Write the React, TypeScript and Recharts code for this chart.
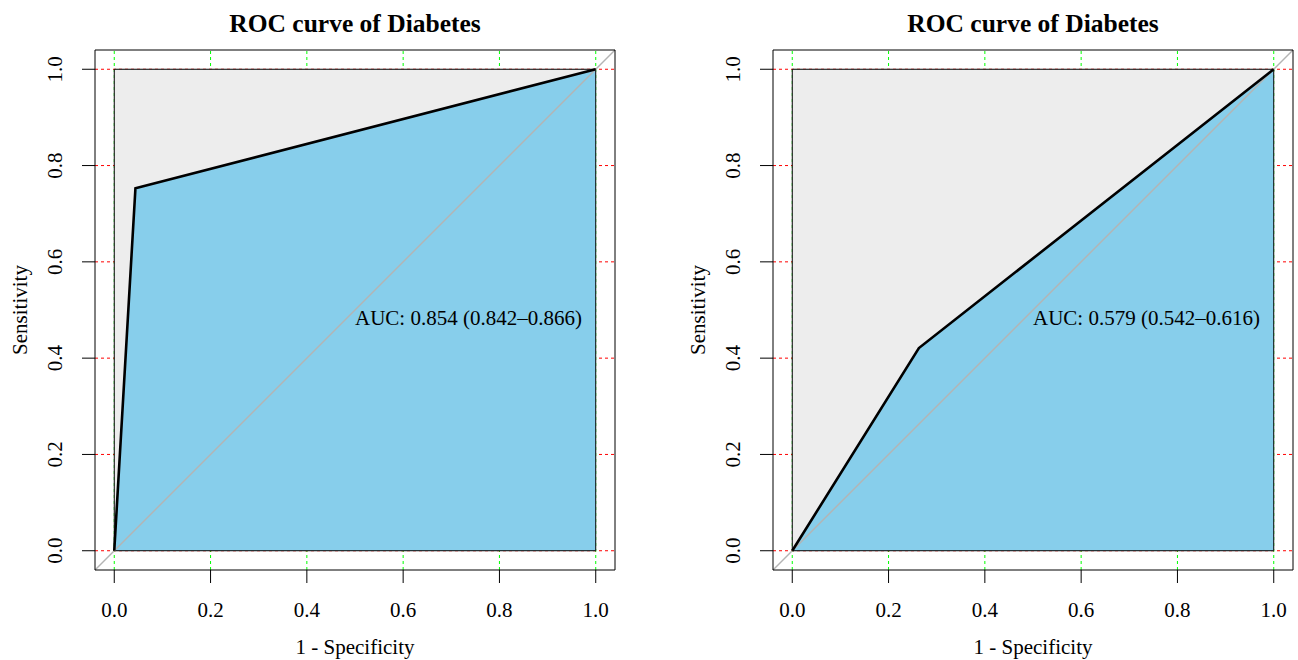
import {
  ComposedChart,
  Area,
  Line,
  ReferenceArea,
  ReferenceDot,
  ReferenceLine,
  XAxis,
  YAxis,
} from 'recharts'

// ROC points (1 - specificity, sensitivity)
const fprLeft = [0, 0.044, 1]
const tprLeft = [0, 0.753, 1]
const fprRight = [0, 0.263, 1]
const tprRight = [0, 0.421, 1]

const aucLeft = 'AUC: 0.854 (0.842\u20130.866)'
const aucRight = 'AUC: 0.579 (0.542\u20130.616)'

const ticks = [0, 0.2, 0.4, 0.6, 0.8, 1]
const title = 'ROC curve of Diabetes'

const font = '"Liberation Serif", "Times New Roman", serif'
const FS = 21
const W = 649
const H = 660
const TOP = 50
const BOTTOM = 90
const PLOT_W = 520

type PanelProps = {
  fpr: number[]
  tpr: number[]
  auc: string
  left: number
  plotLeft: number
}

function Panel({ fpr, tpr, auc, left, plotLeft }: PanelProps) {
  const data = fpr.map((x, i) => ({ x, y: tpr[i] }))
  const cx = plotLeft + PLOT_W / 2
  const cy = TOP + (H - TOP - BOTTOM) / 2

  const xTick = (props: any) => (
    <text
      x={props.x}
      y={617}
      textAnchor="middle"
      fontFamily={font}
      fontSize={FS}
      fill="#000"
    >
      {Number(props.payload.value).toFixed(1)}
    </text>
  )
  const yTick = (props: any) => (
    <text
      x={plotLeft - 33}
      y={props.y}
      textAnchor="middle"
      fontFamily={font}
      fontSize={FS}
      fill="#000"
      transform={`rotate(-90 ${plotLeft - 33} ${props.y})`}
    >
      {Number(props.payload.value).toFixed(1)}
    </text>
  )

  return (
    <div style={{ position: 'absolute', left, top: 0, width: W, height: H }}>
      <ComposedChart
        width={W}
        height={H}
        data={data}
        margin={{ top: TOP, bottom: 0, left: 0, right: W - plotLeft - PLOT_W }}
      >
        <XAxis
          dataKey="x"
          type="number"
          domain={[-0.04, 1.04]}
          ticks={ticks}
          allowDataOverflow
          axisLine={false}
          tickSize={13}
          tickLine={{ stroke: '#000' }}
          tick={xTick}
          height={BOTTOM}
        />
        <YAxis
          type="number"
          domain={[-0.04, 1.04]}
          ticks={ticks}
          allowDataOverflow
          axisLine={false}
          tickSize={13}
          tickLine={{ stroke: '#000' }}
          tick={yTick}
          width={plotLeft}
        />
        {ticks.map((t) => (
          <ReferenceLine
            key={'gx' + t}
            x={t}
            stroke="#00ff00"
            strokeDasharray="3 3"
            zIndex={-50}
          />
        ))}
        {ticks.map((t) => (
          <ReferenceLine
            key={'gy' + t}
            y={t}
            stroke="#ff0000"
            strokeDasharray="3 3"
            zIndex={-50}
          />
        ))}
        <ReferenceArea
          x1={0}
          x2={1}
          y1={0}
          y2={1}
          fill="#ededed"
          fillOpacity={1}
          stroke="none"
          zIndex={10}
        />
        <Area
          dataKey="y"
          type="linear"
          fill="#87ceeb"
          fillOpacity={1}
          stroke="none"
          isAnimationActive={false}
          zIndex={100}
          activeDot={false}
        />
        <ReferenceArea
          x1={0}
          x2={1}
          y1={0}
          y2={1}
          fill="none"
          stroke="#000"
          strokeWidth={1}
          zIndex={150}
        />
        <ReferenceLine
          segment={[
            { x: -0.04, y: -0.04 },
            { x: 1.04, y: 1.04 },
          ]}
          stroke="#b4b4b4"
          strokeWidth={1.4}
          ifOverflow="visible"
          zIndex={200}
        />
        <Line
          dataKey="y"
          type="linear"
          stroke="#000"
          strokeWidth={2.6}
          dot={false}
          activeDot={false}
          isAnimationActive={false}
          zIndex={400}
        />
        <ReferenceArea
          x1={-0.04}
          x2={1.04}
          y1={-0.04}
          y2={1.04}
          fill="none"
          stroke="#000"
          strokeWidth={1}
          ifOverflow="visible"
          zIndex={450}
        />
        <ReferenceDot
          x={0.5}
          y={0.5}
          r={0}
          fill="none"
          stroke="none"
          zIndex={500}
          label={{
            content: (p: any) => (
              <text
                x={p.viewBox.x}
                y={p.viewBox.y + 15}
                textAnchor="start"
                fontFamily={font}
                fontSize={FS}
                fill="#000"
              >
                {auc}
              </text>
            ),
          }}
        />
      </ComposedChart>
      <svg
        width={W}
        height={H}
        style={{ position: 'absolute', left: 0, top: 0, pointerEvents: 'none' }}
      >
        <text
          x={cx}
          y={32}
          textAnchor="middle"
          fontFamily={font}
          fontSize={25.5}
          fontWeight="bold"
          fill="#000"
        >
          {title}
        </text>
        <text x={cx} y={654} textAnchor="middle" fontFamily={font} fontSize={FS} fill="#000">
          1 - Specificity
        </text>
        <text
          x={plotLeft - 68}
          y={cy}
          textAnchor="middle"
          fontFamily={font}
          fontSize={FS}
          fill="#000"
          transform={`rotate(-90 ${plotLeft - 68} ${cy})`}
        >
          Sensitivity
        </text>
      </svg>
    </div>
  )
}

export default function App() {
  return (
    <div
      style={{
        position: 'absolute',
        left: 0,
        top: 0,
        width: 1298,
        height: 660,
        background: '#fff',
      }}
    >
      <Panel fpr={fprLeft} tpr={tprLeft} auc={aucLeft} left={0} plotLeft={95} />
      <Panel fpr={fprRight} tpr={tprRight} auc={aucRight} left={649} plotLeft={124} />
    </div>
  )
}
